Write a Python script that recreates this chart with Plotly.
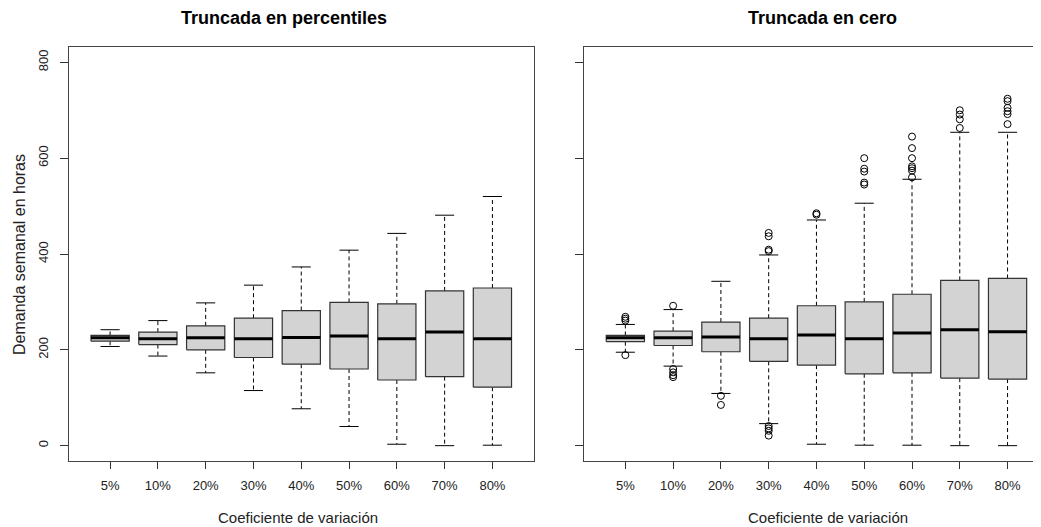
import plotly.graph_objects as go

categories = ["5%", "10%", "20%", "30%", "40%", "50%", "60%", "70%", "80%"]

# Panel 1: Truncada en percentiles
p_low = [207, 187, 152, 115, 77, 40, 3, 0, 1]
p_q1 = [218, 211, 200, 184, 170, 160, 137, 144, 122]
p_med = [225, 223, 225, 223, 226, 229, 223, 237, 223]
p_q3 = [230, 237, 250, 266, 282, 299, 296, 323, 329]
p_high = [242, 261, 298, 335, 373, 408, 443, 481, 520]
p_out = [[], [], [], [], [], [], [], [], []]

# Panel 2: Truncada en cero
c_low = [195, 166, 109, 46, 3, 1, 1, 0, 0]
c_q1 = [217, 209, 196, 176, 168, 150, 152, 141, 139]
c_med = [225, 225, 227, 223, 231, 223, 235, 242, 238]
c_q3 = [230, 239, 258, 266, 292, 300, 316, 345, 349]
c_high = [253, 284, 343, 398, 471, 506, 556, 654, 654]
c_out = [
    [269, 265, 261, 189],
    [292, 160, 153, 147, 143],
    [104, 85],
    [444, 437, 409, 406, 41, 36, 31, 21],
    [485, 482],
    [600, 578, 572, 549, 545],
    [645, 621, 600, 583, 579, 574, 560],
    [700, 691, 681, 663],
    [724, 719, 705, 698, 692, 671],
]

BOX_HALF = 0.4
CAP_HALF = 0.2
FILL = "#D3D3D3"
EDGE = "#333333"
FONT = "Liberation Sans, Arial, sans-serif"

fig = go.Figure()


def add_panel(low, q1, med, q3, high, outs, xa, ya):
    bx, by, wx, wy, cx, cy, mx, my, ox, oy = [], [], [], [], [], [], [], [], [], []
    for i in range(len(categories)):
        p = i + 1
        bx += [p - BOX_HALF, p + BOX_HALF, p + BOX_HALF, p - BOX_HALF, p - BOX_HALF, None]
        by += [q1[i], q1[i], q3[i], q3[i], q1[i], None]
        wx += [p, p, None, p, p, None]
        wy += [q3[i], high[i], None, q1[i], low[i], None]
        cx += [p - CAP_HALF, p + CAP_HALF, None, p - CAP_HALF, p + CAP_HALF, None]
        cy += [high[i], high[i], None, low[i], low[i], None]
        mx += [p - BOX_HALF, p + BOX_HALF, None]
        my += [med[i], med[i], None]
        for v in outs[i]:
            ox.append(p)
            oy.append(v)
    common = dict(xaxis=xa, yaxis=ya, showlegend=False, hoverinfo="skip")
    fig.add_trace(go.Scatter(x=wx, y=wy, mode="lines",
                             line=dict(color="black", width=1, dash="4px,3px"), **common))
    fig.add_trace(go.Scatter(x=cx, y=cy, mode="lines",
                             line=dict(color="black", width=1), **common))
    fig.add_trace(go.Scatter(x=bx, y=by, mode="lines", fill="toself", fillcolor=FILL,
                             line=dict(color=EDGE, width=1.2), **common))
    fig.add_trace(go.Scatter(x=mx, y=my, mode="lines",
                             line=dict(color="black", width=3), **common))
    if ox:
        fig.add_trace(go.Scatter(x=ox, y=oy, mode="markers",
                                 marker=dict(symbol="circle-open", size=7,
                                             color="black", line=dict(width=1)),
                                 **common))


add_panel(p_low, p_q1, p_med, p_q3, p_high, p_out, "x", "y")
add_panel(c_low, c_q1, c_med, c_q3, c_high, c_out, "x2", "y2")

xcommon = dict(
    tickmode="array", tickvals=list(range(1, len(categories) + 1)), ticktext=categories,
    ticks="outside", ticklen=7, tickcolor="#333", tickwidth=1,
    showline=True, linecolor="#444", linewidth=1, mirror=True,
    showgrid=False, zeroline=False,
    tickfont=dict(family=FONT, size=13, color="#222"),
    ticklabelstandoff=5,
)
ycommon = dict(
    range=[-32, 832], tickvals=[0, 200, 400, 600, 800],
    ticks="outside", ticklen=8, tickcolor="#333", tickwidth=1,
    showline=True, linecolor="#444", linewidth=1,
    showgrid=False, zeroline=False,
    tickfont=dict(family=FONT, size=13, color="#222"),
    tickangle=-90,
)

# page has an 8px body margin: figure is sized to fit the 1041x527 window
fig.update_layout(
    width=1033, height=519,
    margin=dict(l=61, r=0, t=39, b=66),
    plot_bgcolor="white", paper_bgcolor="white",
    xaxis=dict(domain=[0, 0.4779], range=[0.14, 9.86], anchor="y", **xcommon),
    xaxis2=dict(domain=[0.5301, 1.0], range=[0.14, 9.70], anchor="y2", **xcommon),
    yaxis=dict(domain=[0, 1], anchor="x", mirror=True, ticklabelstandoff=7, **ycommon),
    yaxis2=dict(domain=[0, 1], anchor="x2", showticklabels=False, **ycommon),
    annotations=[
        dict(text="<b>Truncada en percentiles</b>", x=0.2217, y=1.070, xref="paper", yref="paper",
             showarrow=False, xanchor="center", yanchor="middle",
             font=dict(family=FONT, size=18, color="black")),
        dict(text="<b>Truncada en cero</b>", x=0.7757, y=1.070, xref="paper", yref="paper",
             showarrow=False, xanchor="center", yanchor="middle",
             font=dict(family=FONT, size=18, color="black")),
        dict(text="Coeficiente de variación", x=0.2356, y=-0.1353, xref="paper", yref="paper",
             showarrow=False, xanchor="center", yanchor="middle",
             font=dict(family=FONT, size=15, color="#222")),
        dict(text="Coeficiente de variación", x=0.7809, y=-0.1353, xref="paper", yref="paper",
             showarrow=False, xanchor="center", yanchor="middle",
             font=dict(family=FONT, size=15, color="#222")),
        dict(text="Demanda semanal en horas", x=-0.0504, y=0.4976, xref="paper", yref="paper",
             showarrow=False, xanchor="center", yanchor="middle", textangle=-90,
             font=dict(family=FONT, size=16, color="#222")),
    ],
)

fig.write_html("out.html")
